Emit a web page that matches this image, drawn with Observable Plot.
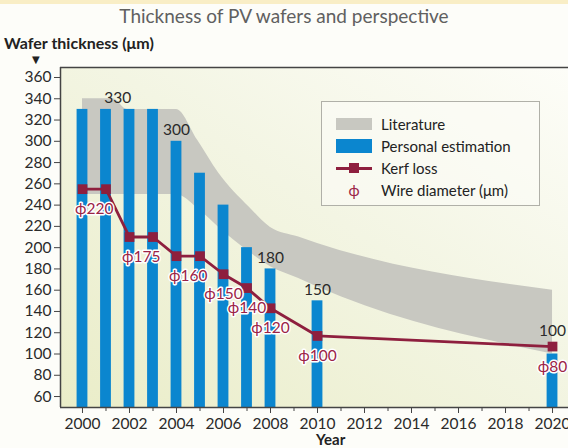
<!DOCTYPE html>
<html>
<head>
<meta charset="utf-8">
<script src="https://cdn.jsdelivr.net/npm/d3@7"></script>
<script src="https://cdn.jsdelivr.net/npm/@observablehq/plot@0.6"></script>
<style>
  html, body { margin: 0; padding: 0; background: #fdfdf9; }
  #wrap { position: relative; width: 568px; height: 448px; overflow: hidden; background: #fdfdf9; font-family: Lato, "Open Sans", "DejaVu Sans", sans-serif; }
  #chart { position: absolute; left: 0; top: 0; }
  .topband { position: absolute; left: 0; top: 0; width: 568px; height: 4px; background: #f9eec6; }
  .title { position: absolute; left: 0; width: 568px; top: 4px; text-align: center; font-size: 19px; line-height: 24px; color: #606060; }
  .ylab { position: absolute; left: 4px; top: 34px; font-size: 16px; line-height: 18px; font-weight: bold; color: #222; }
  .arrow { position: absolute; left: 32px; top: 54px; font-size: 10px; line-height: 10px; color: #222; }
  .xlab { position: absolute; left: 316px; top: 430px; font-size: 15px; font-weight: bold; color: #222; }
  .legend { position: absolute; left: 321px; top: 101px; width: 219px; height: 105px; border: 1px solid #b0b0a8; background: rgba(252,252,246,0.6); box-sizing: border-box; font-size: 15px; color: #222; }
  .li { position: absolute; left: 14px; height: 22px; display: flex; align-items: center; }
  .sw { width: 36px; height: 12px; margin-right: 9px; position: relative; }
  .kerf { width: 36px; height: 12px; margin-right: 9px; position: relative; }
  .kerf .ln { position: absolute; left: 0; top: 5px; width: 36px; height: 2.5px; background: #8e1f3e; }
  .kerf .sq { position: absolute; left: 13px; top: 1px; width: 10px; height: 10px; background: #8e1f3e; }
  .phi { width: 36px; margin-right: 9px; text-align: center; color: #9b2346; }
</style>
</head>
<body>
<div id="wrap">
  <div id="chart"></div>
  <div class="topband"></div>
  <div class="title">Thickness of PV wafers and perspective</div>
  <div class="ylab">Wafer thickness (μm)</div>
  <div class="arrow">▼</div>
  <div class="xlab">Year</div>
  <div class="legend">
    <div class="li" style="top:11px"><div class="sw" style="background:#c8c8c1"></div>Literature</div>
    <div class="li" style="top:33px"><div class="sw" style="background:#0b86cf;height:14px"></div>Personal estimation</div>
    <div class="li" style="top:55px"><div class="kerf"><div class="ln"></div><div class="sq"></div></div>Kerf loss</div>
    <div class="li" style="top:77px"><div class="phi">ϕ</div>Wire diameter (μm)</div>
  </div>
</div>
<script>
// ---- data ----
const years = [2000, 2001, 2002, 2003, 2004, 2005, 2006, 2007, 2008, 2010, 2020];
const personalEstimation = [330, 330, 330, 330, 300, 270, 240, 200, 180, 150, 100];
const kerfLoss = [255, 255, 210, 210, 192, 192, 175, 162, 143, 117, 107];

const litYears = [2000, 2001.3, 2001.9, 2004, 2004.9, 2005.8, 2007.1, 2008, 2009.2, 2010, 2020];
const litHigh  = [340, 340, 330, 330, 301, 270, 238, 219, 210, 204, 160];
const litLow   = [250, 250, 250, 250, 237, 219, 196, 182, 171, 163, 100];

const wireYears = [2000.5, 2002.5, 2004.5, 2006, 2007, 2008, 2010, 2020];
const wireDiameter = [220, 175, 160, 150, 140, 120, 100, 80];

const barLabelYears = [2001.5, 2004, 2008, 2010, 2020];
const barLabelValues = [330, 300, 180, 150, 100];

const xMajorTicks = [2000, 2002, 2004, 2006, 2008, 2010, 2012, 2014, 2016, 2018, 2020];
const xMinorTicks = [2001, 2003, 2005, 2007, 2009, 2011, 2013, 2015, 2017, 2019];
const yTicks = [60, 80, 100, 120, 140, 160, 180, 200, 220, 240, 260, 280, 300, 320, 340, 360];

// ---- tables ----
const xDomain = [1999.064, 2020.68];
const yDomain = [49.7, 369.4];
const bars = years.map((year, i) => ({year, value: personalEstimation[i], kerf: kerfLoss[i]}));
const lit = litYears.map((year, i) => ({year, lo: litLow[i], hi: litHigh[i]}));
const kerfAt = y => kerfLoss[years.indexOf(Math.floor(y))];
const wires = wireYears.map((year, i) => ({year, d: wireDiameter[i], k: kerfAt(year)}));
const barLabels = barLabelYears.map((year, i) => ({year, v: barLabelValues[i]}));

const defs = () => {
  const d = d3.create("svg:defs");
  const g = d.append("linearGradient").attr("id", "bgGrad")
    .attr("x1", "0").attr("y1", "1").attr("x2", "1").attr("y2", "0");
  g.append("stop").attr("offset", "0").attr("stop-color", "#eaedc8");
  g.append("stop").attr("offset", "0.55").attr("stop-color", "#f3f5e3");
  g.append("stop").attr("offset", "1").attr("stop-color", "#fdfdf8");
  return d.node();
};

const chart = Plot.plot({
  width: 568,
  height: 448,
  marginLeft: 60,
  marginRight: 0,
  marginTop: 67,
  marginBottom: 41,
  style: {background: "transparent", fontFamily: "Lato, 'Open Sans', 'DejaVu Sans', sans-serif", fontSize: "15px", color: "#333"},
  x: {domain: xDomain},
  y: {domain: yDomain},
  marks: [
    defs,
    Plot.frame({fill: "url(#bgGrad)", stroke: null}),
    Plot.areaY(lit, {x: "year", y1: "lo", y2: "hi", fill: "#c8c8c1", curve: "monotone-x"}),
    Plot.rectY(bars, {x1: d => d.year - 0.23, x2: d => d.year + 0.23, y1: yDomain[0], y2: "value", fill: "#0b86cf"}),
    Plot.line(bars, {x: "year", y: "kerf", stroke: "#8e1f3e", strokeWidth: 2.8}),
    Plot.dot(bars, {x: "year", y: "kerf", symbol: "square", r: 5.5, fill: "#8e1f3e"}),
    Plot.text(wires, {x: "year", y: "k", text: d => "ϕ" + d.d, dy: 20, fill: "#9b2346", stroke: "white", strokeWidth: 3, fontSize: 15.5}),
    Plot.text(barLabels.filter(d => d.v !== 100), {x: "year", y: "v", text: d => String(d.v), dy: -11, fill: "#2a2a2a", fontSize: 15.5}),
    Plot.text(barLabels.filter(d => d.v === 100), {x: "year", y: "v", text: d => String(d.v), dy: -23, fill: "#2a2a2a", fontSize: 15.5}),
    Plot.ruleY([yDomain[0], yDomain[1]], {stroke: "#444", strokeWidth: 1.5}),
    Plot.ruleX([xDomain[0]], {stroke: "#444", strokeWidth: 1.5}),
    Plot.axisY({ticks: yTicks, tickSize: 6, tickPadding: 3, label: null, tickFormat: d => String(d), stroke: "#444", fill: "#2a2a2a", fontSize: 15.5}),
    Plot.axisX({ticks: xMajorTicks, tickSize: 6, tickPadding: 4, label: null, tickFormat: d => String(d), stroke: "#444", fill: "#2a2a2a", fontSize: 15.5}),
    Plot.axisX({ticks: xMinorTicks, tickSize: 4, label: null, tickFormat: () => "", stroke: "#444"})
  ]
});
document.getElementById("chart").appendChild(chart);
</script>
</body>
</html>
